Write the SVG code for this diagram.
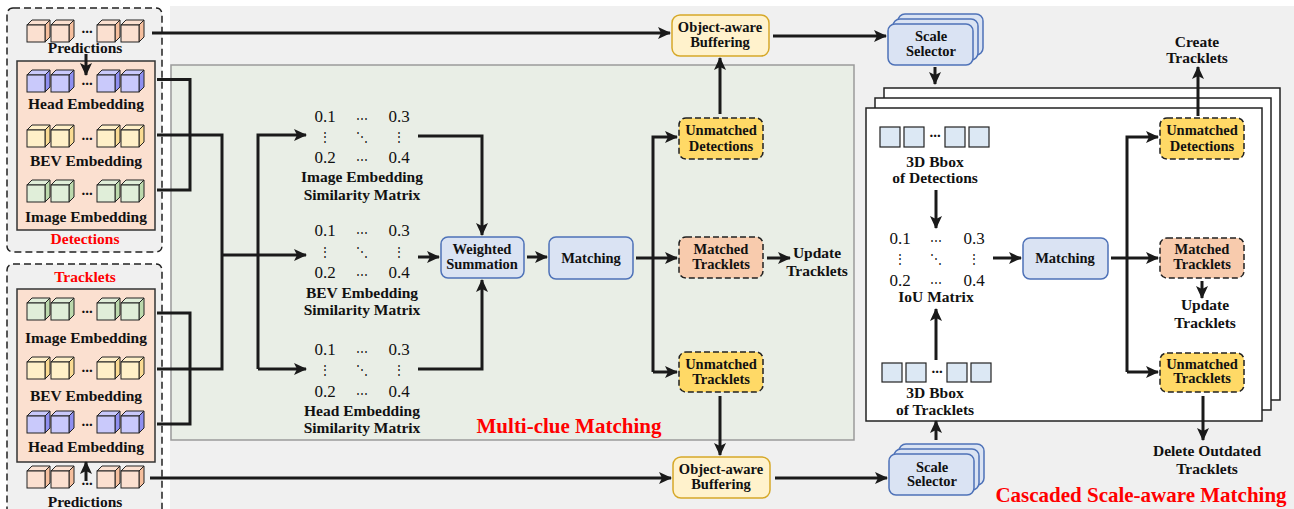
<svg xmlns="http://www.w3.org/2000/svg" xmlns:xlink="http://www.w3.org/1999/xlink" width="1294" height="509" viewBox="0 0 1294 509">
<style>
.t{font-family:"Liberation Serif","Times New Roman",serif;font-weight:bold;font-size:14.5px;fill:#111;text-anchor:middle}
.ml{font-family:"Liberation Serif","Times New Roman",serif;font-weight:bold;font-size:15.5px;fill:#111;text-anchor:middle}
.lbl{font-family:"Liberation Serif","Times New Roman",serif;font-weight:bold;font-size:15.5px;fill:#111;text-anchor:middle}
.red{font-family:"Liberation Serif","Times New Roman",serif;font-weight:bold;fill:#ff0000;text-anchor:middle}
.num{font-family:"Liberation Serif","Times New Roman",serif;font-size:17px;fill:#111;text-anchor:middle}
.ell{font-family:"DejaVu Serif",serif;font-size:12px;fill:#111;text-anchor:middle}
.dots{font-family:"Liberation Serif",serif;font-weight:bold;font-size:15px;fill:#111;text-anchor:middle}
.ln{fill:none;stroke:#1a1a1a;stroke-width:3}
.arr{fill:none;stroke:#1a1a1a;stroke-width:3;marker-end:url(#ah)}
.blue{fill:#dae3f3;stroke:#4e72b8;stroke-width:1.5}
.buf{fill:#fff2cc;stroke:#d6a828;stroke-width:1.5}
.um{fill:#ffd966;stroke:#222;stroke-width:1.5;stroke-dasharray:6 3}
.mt{fill:#f8cbad;stroke:#222;stroke-width:1.5;stroke-dasharray:6 3}
.pink{fill:#fbe0d0;stroke:#333;stroke-width:1.5}
.dash{fill:#f0f0f0;stroke:#222;stroke-width:1.5;stroke-dasharray:7 4}
.sq{fill:#dce8f4;stroke:#222;stroke-width:1.2}
.cf{stroke:#222;stroke-width:1}
</style>
<defs>
<marker id="ah" markerUnits="userSpaceOnUse" markerWidth="13" markerHeight="12" refX="12" refY="6" orient="auto">
<path d="M0,0 L13,6 L0,12 L3,6 z" fill="#1a1a1a"/>
</marker>
<g id="cP">
<polygon class="cf" points="0,0 5,-5 23,-5 18,0" fill="#fbe0d0"/>
<polygon class="cf" points="18,0 23,-5 23,12 18,17" fill="#f5bf9e"/>
<rect class="cf" x="0" y="0" width="18" height="17" fill="#fbe0d0"/>
</g>
<g id="cH">
<polygon class="cf" points="0,0 5,-5 23,-5 18,0" fill="#c9c9fb"/>
<polygon class="cf" points="18,0 23,-5 23,12 18,17" fill="#8f8ff0"/>
<rect class="cf" x="0" y="0" width="18" height="17" fill="#c9c9fb"/>
</g>
<g id="cB">
<polygon class="cf" points="0,0 5,-5 23,-5 18,0" fill="#fff0c8"/>
<polygon class="cf" points="18,0 23,-5 23,12 18,17" fill="#fadb93"/>
<rect class="cf" x="0" y="0" width="18" height="17" fill="#fff0c8"/>
</g>
<g id="cI">
<polygon class="cf" points="0,0 5,-5 23,-5 18,0" fill="#e0eed9"/>
<polygon class="cf" points="18,0 23,-5 23,12 18,17" fill="#bcd9ad"/>
<rect class="cf" x="0" y="0" width="18" height="17" fill="#e0eed9"/>
</g>
</defs>

<rect x="0" y="0" width="1294" height="509" fill="#ffffff"/>
<rect x="170" y="6" width="1124" height="503" fill="#f0f0f0"/>
<rect id="multi-clue-panel" x="171" y="65" width="683" height="375" fill="#e9eee6" stroke="#9a9a9a" stroke-width="1.5"/>

<g id="detections">
<rect class="dash" x="7" y="8" width="155" height="244" rx="6"/>
<use href="#cP" x="27" y="25"/><use href="#cP" x="51" y="25"/><use href="#cP" x="97" y="25"/><use href="#cP" x="121" y="25"/>
<text class="dots" x="87" y="33">...</text>
<text class="lbl" x="85" y="53">Predictions</text>
<rect class="pink" x="17" y="61" width="138" height="169"/>
<use href="#cH" x="27" y="75"/><use href="#cH" x="51" y="75"/><use href="#cH" x="97" y="75"/><use href="#cH" x="121" y="75"/>
<text class="dots" x="87" y="85">...</text>
<text class="lbl" x="86" y="109">Head Embedding</text>
<use href="#cB" x="27" y="130"/><use href="#cB" x="51" y="130"/><use href="#cB" x="97" y="130"/><use href="#cB" x="121" y="130"/>
<text class="dots" x="87" y="140">...</text>
<text class="lbl" x="86" y="166">BEV Embedding</text>
<use href="#cI" x="27" y="185"/><use href="#cI" x="51" y="185"/><use href="#cI" x="97" y="185"/><use href="#cI" x="121" y="185"/>
<text class="dots" x="87" y="195">...</text>
<text class="lbl" x="86" y="222">Image Embedding</text>
<text class="red" x="85" y="244" font-size="15.5">Detections</text>
</g>

<g id="tracklets">
<rect class="dash" x="7" y="264" width="155" height="252" rx="6"/>
<text class="red" x="85" y="282" font-size="15.5">Tracklets</text>
<rect class="pink" x="17" y="289" width="138" height="173"/>
<use href="#cI" x="27" y="303"/><use href="#cI" x="51" y="303"/><use href="#cI" x="97" y="303"/><use href="#cI" x="121" y="303"/>
<text class="dots" x="87" y="313">...</text>
<text class="lbl" x="86" y="343">Image Embedding</text>
<use href="#cB" x="27" y="362"/><use href="#cB" x="51" y="362"/><use href="#cB" x="97" y="362"/><use href="#cB" x="121" y="362"/>
<text class="dots" x="87" y="372">...</text>
<text class="lbl" x="86" y="401">BEV Embedding</text>
<use href="#cH" x="27" y="416"/><use href="#cH" x="51" y="416"/><use href="#cH" x="97" y="416"/><use href="#cH" x="121" y="416"/>
<text class="dots" x="87" y="426">...</text>
<text class="lbl" x="86" y="452">Head Embedding</text>
<use href="#cP" x="27" y="471"/><use href="#cP" x="51" y="471"/><use href="#cP" x="97" y="471"/><use href="#cP" x="121" y="471"/>
<text class="dots" x="87" y="485">...</text>
<text class="lbl" x="85" y="507">Predictions</text>
</g>

<g id="img-matrix">
<text class="num" x="325" y="122">0.1</text><text class="ell" x="362" y="123">⋯</text><text class="num" x="399" y="122">0.3</text>
<text class="ell" x="325" y="141">⋮</text><text class="ell" x="362" y="141">⋱</text><text class="ell" x="399" y="141">⋮</text>
<text class="num" x="325" y="163">0.2</text><text class="ell" x="362" y="164">⋯</text><text class="num" x="399" y="163">0.4</text>
<text class="ml" x="362" y="182">Image Embedding</text>
<text class="ml" x="362" y="200">Similarity Matrix</text>
</g>
<g id="bev-matrix">
<text class="num" x="325" y="236">0.1</text><text class="ell" x="362" y="237">⋯</text><text class="num" x="399" y="236">0.3</text>
<text class="ell" x="325" y="256">⋮</text><text class="ell" x="362" y="256">⋱</text><text class="ell" x="399" y="256">⋮</text>
<text class="num" x="325" y="278">0.2</text><text class="ell" x="362" y="279">⋯</text><text class="num" x="399" y="278">0.4</text>
<text class="ml" x="362" y="298">BEV Embedding</text>
<text class="ml" x="362" y="315">Similarity Matrix</text>
</g>
<g id="head-matrix">
<text class="num" x="325" y="355">0.1</text><text class="ell" x="362" y="356">⋯</text><text class="num" x="399" y="355">0.3</text>
<text class="ell" x="325" y="374">⋮</text><text class="ell" x="362" y="374">⋱</text><text class="ell" x="399" y="374">⋮</text>
<text class="num" x="325" y="397">0.2</text><text class="ell" x="362" y="398">⋯</text><text class="num" x="399" y="397">0.4</text>
<text class="ml" x="362" y="416">Head Embedding</text>
<text class="ml" x="362" y="433">Similarity Matrix</text>
</g>

<g id="weighted-summation">
<rect class="blue" x="441" y="237" width="83" height="41" rx="7"/>
<text class="t" x="482" y="254">Weighted</text>
<text class="t" x="482" y="269">Summation</text>
</g>
<g id="matching1">
<rect class="blue" x="549" y="237" width="84" height="42" rx="7"/>
<text class="t" x="591" y="263">Matching</text>
</g>
<g id="unmatched-det1">
<rect class="um" x="679" y="118" width="84" height="41" rx="7"/>
<text class="t" x="721" y="135">Unmatched</text>
<text class="t" x="721" y="151">Detections</text>
</g>
<g id="matched-trk1">
<rect class="mt" x="679" y="237" width="84" height="41" rx="7"/>
<text class="t" x="721" y="254">Matched</text>
<text class="t" x="721" y="269">Tracklets</text>
</g>
<g id="unmatched-trk1">
<rect class="um" x="679" y="352" width="84" height="40" rx="7"/>
<text class="t" x="721" y="369">Unmatched</text>
<text class="t" x="721" y="384">Tracklets</text>
</g>
<g id="update-trk1">
<text class="lbl" x="817" y="258">Update</text>
<text class="lbl" x="817" y="276">Tracklets</text>
</g>
<g id="buffer-top">
<rect class="buf" x="672" y="15" width="97" height="41" rx="8"/>
<text class="t" x="720" y="32">Object-aware</text>
<text class="t" x="720" y="47">Buffering</text>
</g>
<g id="buffer-bottom">
<rect class="buf" x="673" y="457" width="97" height="41" rx="8"/>
<text class="t" x="721" y="474">Object-aware</text>
<text class="t" x="721" y="489">Buffering</text>
</g>
<g id="scale-top">
<rect class="blue" x="898" y="14" width="85" height="41" rx="7"/>
<rect class="blue" x="893" y="19" width="85" height="41" rx="7"/>
<rect class="blue" x="888" y="24" width="85" height="41" rx="7"/>
<text class="t" x="931" y="41">Scale</text>
<text class="t" x="931" y="56">Selector</text>
</g>
<g id="scale-bottom">
<rect class="blue" x="899" y="444" width="85" height="41" rx="7"/>
<rect class="blue" x="894" y="449" width="85" height="41" rx="7"/>
<rect class="blue" x="889" y="454" width="85" height="41" rx="7"/>
<text class="t" x="932" y="472">Scale</text>
<text class="t" x="932" y="486">Selector</text>
</g>

<g id="cascaded-panel">
<rect x="884" y="88" width="396" height="312" fill="#fff" stroke="#222" stroke-width="1.5"/>
<rect x="875" y="98" width="396" height="312" fill="#fff" stroke="#222" stroke-width="1.5"/>
<rect x="866" y="108" width="396" height="313" fill="#fff" stroke="#222" stroke-width="1.5"/>
</g>
<g id="bbox-det">
<rect class="sq" x="880" y="127" width="20" height="20"/><rect class="sq" x="904" y="127" width="20" height="20"/>
<text class="dots" x="935" y="137">...</text>
<rect class="sq" x="945" y="127" width="20" height="20"/><rect class="sq" x="969" y="127" width="20" height="20"/>
<text class="ml" x="935" y="167">3D Bbox</text>
<text class="ml" x="935" y="183">of Detections</text>
</g>
<g id="iou-matrix">
<text class="num" x="900" y="244">0.1</text><text class="ell" x="936" y="245">⋯</text><text class="num" x="974" y="244">0.3</text>
<text class="ell" x="900" y="263">⋮</text><text class="ell" x="936" y="263">⋱</text><text class="ell" x="974" y="263">⋮</text>
<text class="num" x="900" y="286">0.2</text><text class="ell" x="936" y="287">⋯</text><text class="num" x="974" y="286">0.4</text>
<text class="ml" x="936" y="302">IoU Matrix</text>
</g>
<g id="bbox-trk">
<rect class="sq" x="882" y="363" width="20" height="19"/><rect class="sq" x="906" y="363" width="20" height="19"/>
<text class="dots" x="937" y="373">...</text>
<rect class="sq" x="947" y="363" width="20" height="19"/><rect class="sq" x="971" y="363" width="20" height="19"/>
<text class="ml" x="935" y="398">3D Bbox</text>
<text class="ml" x="935" y="415">of Tracklets</text>
</g>
<g id="matching2">
<rect class="blue" x="1023" y="238" width="85" height="41" rx="7"/>
<text class="t" x="1065" y="263">Matching</text>
</g>
<g id="unmatched-det2">
<rect class="um" x="1160" y="118" width="84" height="41" rx="7"/>
<text class="t" x="1202" y="135">Unmatched</text>
<text class="t" x="1202" y="151">Detections</text>
</g>
<g id="matched-trk2">
<rect class="mt" x="1160" y="238" width="84" height="40" rx="7"/>
<text class="t" x="1202" y="254">Matched</text>
<text class="t" x="1202" y="269">Tracklets</text>
</g>
<g id="unmatched-trk2">
<rect class="um" x="1160" y="353" width="84" height="39" rx="7"/>
<text class="t" x="1202" y="369">Unmatched</text>
<text class="t" x="1202" y="383">Tracklets</text>
</g>
<g id="create-trk">
<text class="lbl" x="1197" y="47">Create</text>
<text class="lbl" x="1197" y="63">Tracklets</text>
</g>
<g id="update-trk2">
<text class="lbl" x="1205" y="310">Update</text>
<text class="lbl" x="1205" y="328">Tracklets</text>
</g>
<g id="delete-trk">
<text class="lbl" x="1207" y="456">Delete Outdated</text>
<text class="lbl" x="1207" y="474">Tracklets</text>
</g>

<text class="red" x="569" y="433" font-size="21">Multi-clue Matching</text>
<text class="red" x="1141" y="502" font-size="21">Cascaded Scale-aware Matching</text>

<g id="connectors">
<path class="arr" d="M152,33 H670"/>
<path class="arr" d="M773,36 H886"/>
<path class="arr" d="M935,67 V84"/>
<path class="arr" d="M86,54 V75"/>
<path class="arr" d="M86,481 V462"/>
<path class="arr" d="M150,478 H671"/>
<path class="arr" d="M775,478 H887"/>
<path class="arr" d="M936,440 V421"/>
<path class="ln" d="M157,79.5 H190 V190 H157"/>
<path class="ln" d="M157,135 H222 V369 H157"/>
<path class="ln" d="M157,313 H190 V424 H157"/>
<path class="ln" d="M222,255 H258"/>
<path class="arr" d="M258,369 V135 H306"/>
<path class="arr" d="M258,255 H306"/>
<path class="arr" d="M258,369 H306"/>
<path class="arr" d="M418,136 H482 V235"/>
<path class="arr" d="M418,257 H439"/>
<path class="arr" d="M418,369 H482 V280"/>
<path class="arr" d="M527,257 H547"/>
<path class="ln" d="M636,258 H653"/>
<path class="arr" d="M653,372 V137 H677"/>
<path class="arr" d="M653,258 H677"/>
<path class="arr" d="M653,372 H677"/>
<path class="arr" d="M767,258 H790"/>
<path class="arr" d="M720,114 V58"/>
<path class="arr" d="M720,396 V455"/>
<path class="arr" d="M936,190 V228"/>
<path class="arr" d="M936,360 V309"/>
<path class="arr" d="M993,258 H1021"/>
<path class="ln" d="M1111,258 H1127"/>
<path class="arr" d="M1127,372 V137 H1158"/>
<path class="arr" d="M1127,258 H1158"/>
<path class="arr" d="M1127,372 H1158"/>
<path class="arr" d="M1198,116 V67"/>
<path class="arr" d="M1202,281 V298"/>
<path class="arr" d="M1203,396 V440"/>
</g>
</svg>
